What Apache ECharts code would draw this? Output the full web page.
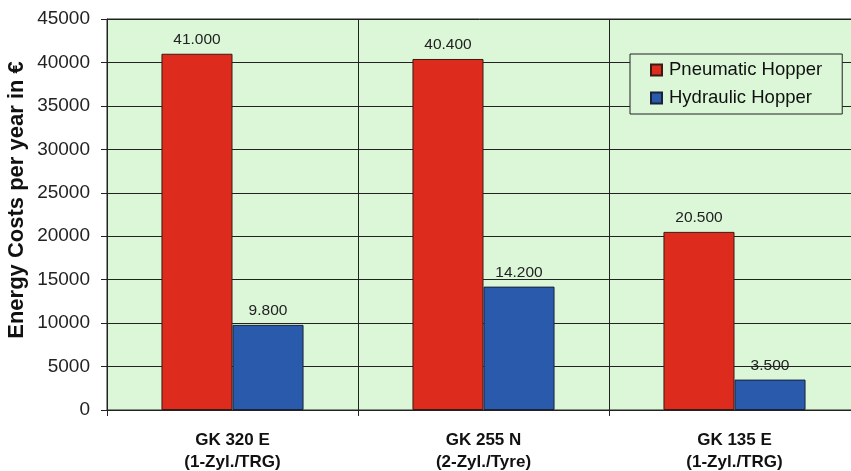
<!DOCTYPE html>
<html>
<head>
<meta charset="utf-8">
<script src="https://cdn.jsdelivr.net/npm/echarts@6/dist/echarts.min.js"></script>
<style>
  html, body { margin: 0; padding: 0; background: #fff; }
  #main { width: 851px; height: 471px; }
</style>
</head>
<body>
<div id="main"></div>
<script>
// categories and values
const categories = ['GK 320 E\n(1-Zyl./TRG)', 'GK 255 N\n(2-Zyl./Tyre)', 'GK 135 E\n(1-Zyl./TRG)'];
const pneumatic = [41000, 40400, 20500];
const hydraulic = [9800, 14200, 3500];
const yTicks = [0, 5000, 10000, 15000, 20000, 25000, 30000, 35000, 40000, 45000];

// label like 41.000
function dotFormat(v) {
    return String(v).replace(/\B(?=(\d{3})+(?!\d))/g, '.');
}

const chart = echarts.init(document.getElementById('main'));

const labelStyle = {
    show: true,
    position: 'top',
    distance: 6,
    color: '#222',
    fontSize: 15.5,
    formatter: function (p) { return dotFormat(p.value); }
};

chart.setOption({
    animation: false,
    textStyle: { fontFamily: 'Liberation Sans, Arial, sans-serif' },
    grid: {
        left: 107,
        right: -9,
        top: 19,
        bottom: 61,
        outerBoundsMode: 'none',
        containLabel: false,
        show: true,
        backgroundColor: '#dbf7d8',
        borderColor: '#222',
        borderWidth: 1
    },
    legend: {
        left: 630,
        top: 54,
        orient: 'vertical',
        padding: [6, 20, 6, 20],
        itemGap: 8,
        itemWidth: 11,
        itemHeight: 11,
        backgroundColor: '#dbf7d8',
        borderColor: '#222',
        borderWidth: 1,
        borderRadius: 0,
        textStyle: { fontSize: 18.5, color: '#111', lineHeight: 20, padding: [0, 0, 0, 2] },
        data: [
            { name: 'Pneumatic Hopper', icon: 'rect' },
            { name: 'Hydraulic Hopper', icon: 'rect' }
        ]
    },
    graphic: [{
        type: 'text',
        x: 17,
        y: 200,
        rotation: Math.PI / 2,
        style: {
            text: 'Energy Costs per year in €',
            fontSize: 22,
            fontWeight: 'bold',
            fontFamily: 'Liberation Sans, Arial, sans-serif',
            fill: '#111',
            align: 'center',
            verticalAlign: 'middle'
        }
    }],
    xAxis: {
        type: 'category',
        data: categories,
        axisLine: { lineStyle: { color: '#222' } },
        axisTick: { show: true, length: 6, lineStyle: { color: '#222' } },
        splitLine: { show: true, lineStyle: { color: '#222', width: 1 } },
        axisLabel: {
            margin: 19,
            fontSize: 17,
            fontWeight: 'bold',
            color: '#111',
            lineHeight: 22
        }
    },
    yAxis: {
        type: 'value',
        min: yTicks[0],
        max: yTicks[yTicks.length - 1],
        interval: 5000,
        axisLine: { show: true, lineStyle: { color: '#222' } },
        axisTick: { show: true, length: 6, lineStyle: { color: '#222' } },
        splitLine: { show: true, lineStyle: { color: '#222', width: 1 } },
        axisLabel: {
            fontSize: 19,
            color: '#222',
            margin: 17,
            formatter: function (v) { return String(v); }
        }
    },
    series: [
        {
            name: 'Pneumatic Hopper',
            type: 'bar',
            data: pneumatic,
            barWidth: '28.3%',
            barGap: '0%',
            itemStyle: { color: '#dd2b1d', borderColor: '#3a1a14', borderWidth: 1 },
            label: labelStyle
        },
        {
            name: 'Hydraulic Hopper',
            type: 'bar',
            data: hydraulic,
            barWidth: '28.3%',
            itemStyle: { color: '#2a5aac', borderColor: '#1a2238', borderWidth: 1 },
            label: labelStyle
        }
    ]
});
</script>
</body>
</html>
